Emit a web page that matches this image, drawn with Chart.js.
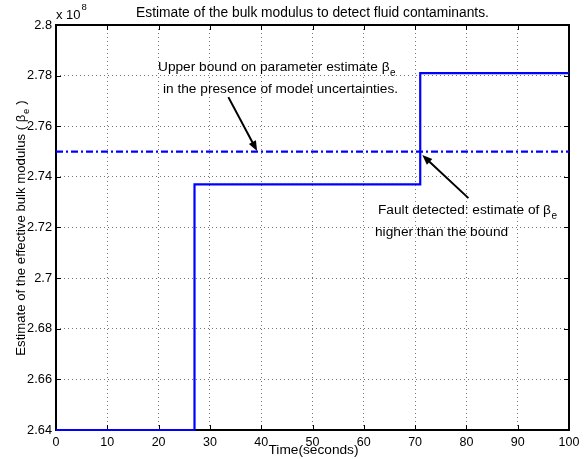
<!DOCTYPE html>
<html>
<head>
<meta charset="utf-8">
<script src="https://cdn.jsdelivr.net/npm/chart.js@4/dist/chart.umd.min.js"></script>
<style>
  html, body { margin: 0; padding: 0; background: #fff; }
  #wrap { width: 587px; height: 459px; position: relative; }
</style>
</head>
<body>
<div id="wrap"><canvas id="c" width="587" height="459"></canvas></div>
<script>
// ---- data (values in units of 1e8) ----
const timeBreaks = [0, 27, 71, 100];
const estimateLevels = [2.64, 2.737, 2.781, 2.781];
const boundTimes = [0, 100];
const boundLevels = [2.75, 2.75];
const xTickValues = [0, 10, 20, 30, 40, 50, 60, 70, 80, 90, 100];
const yTickValues = [2.64, 2.66, 2.68, 2.7, 2.72, 2.74, 2.76, 2.78, 2.8];

const titleText = 'Estimate of the bulk modulus to detect fluid contaminants.';
const xLabelText = 'Time(seconds)';
const yLabelMain = 'Estimate of the effective bulk modulus ( \u03B2';
const yLabelSub = 'e';
const yLabelEnd = ' )';
const note1a = 'Upper bound on parameter estimate \u03B2';
const note1b = 'in the presence of model uncertainties.';
const note2a = 'Fault detected: estimate of \u03B2';
const note2b = 'higher than the bound';

const FONT = '"Liberation Sans", Arial, Helvetica, sans-serif';
const TXT = 13.7;

function drawArrow(ctx, x1, y1, x2, y2) {
  const ang = Math.atan2(y2 - y1, x2 - x1);
  const hl = 10, hw = 4;
  ctx.save();
  ctx.strokeStyle = '#000';
  ctx.fillStyle = '#000';
  ctx.lineWidth = 2;
  ctx.beginPath();
  ctx.moveTo(x1, y1);
  ctx.lineTo(x2 - Math.cos(ang) * hl * 0.8, y2 - Math.sin(ang) * hl * 0.8);
  ctx.stroke();
  ctx.beginPath();
  ctx.moveTo(x2, y2);
  ctx.lineTo(x2 - Math.cos(ang) * hl - Math.sin(ang) * hw, y2 - Math.sin(ang) * hl + Math.cos(ang) * hw);
  ctx.lineTo(x2 - Math.cos(ang) * hl + Math.sin(ang) * hw, y2 - Math.sin(ang) * hl - Math.cos(ang) * hw);
  ctx.closePath();
  ctx.fill();
  ctx.restore();
}

function textWithSub(ctx, main, sub, x, y, size) {
  ctx.font = size + 'px ' + FONT;
  ctx.fillText(main, x, y);
  const w = ctx.measureText(main).width;
  ctx.font = Math.round(size * 0.72) + 'px ' + FONT;
  ctx.fillText(sub, x + w + 0.5, y + 5);
  return w + ctx.measureText(sub).width + 0.5;
}

const framePlugin = {
  id: 'frame',
  beforeDatasetsDraw(chart) {
    const { ctx, chartArea: a, scales } = chart;
    ctx.save();
    ctx.strokeStyle = '#000';
    ctx.lineWidth = 1;
    const tl = 5;
    xTickValues.forEach(v => {
      const x = Math.round(scales.x.getPixelForValue(v)) + 0.5;
      ctx.beginPath();
      ctx.moveTo(x, a.bottom); ctx.lineTo(x, a.bottom - tl);
      ctx.moveTo(x, a.top); ctx.lineTo(x, a.top + tl);
      ctx.stroke();
    });
    yTickValues.forEach(v => {
      const y = Math.round(scales.y.getPixelForValue(v)) + 0.5;
      ctx.beginPath();
      ctx.moveTo(a.left, y); ctx.lineTo(a.left + tl, y);
      ctx.moveTo(a.right, y); ctx.lineTo(a.right - tl, y);
      ctx.stroke();
    });
    ctx.lineWidth = 2;
    ctx.strokeRect(a.left, a.top, a.right - a.left, a.bottom - a.top);
    ctx.restore();
  },
  afterDraw(chart) {
    const { ctx, chartArea: a, scales } = chart;
    const sx = v => scales.x.getPixelForValue(v);
    const sy = v => scales.y.getPixelForValue(v);
    ctx.save();
    ctx.fillStyle = '#000';
    ctx.textBaseline = 'alphabetic';
    // title
    ctx.font = '13.8px ' + FONT;
    ctx.textAlign = 'center';
    ctx.fillText(titleText, (a.left + a.right) / 2, 17);
    // exponent
    ctx.textAlign = 'left';
    ctx.font = '13px ' + FONT;
    ctx.fillText('x 10', a.left, 19);
    const w10 = ctx.measureText('x 10').width;
    ctx.font = '9.5px ' + FONT;
    ctx.fillText('8', a.left + w10 + 1, 10);
    // x label
    ctx.font = TXT + 'px ' + FONT;
    ctx.textAlign = 'center';
    ctx.fillText(xLabelText, 313.5, 453.5);
    // y label (rotated)
    ctx.save();
    ctx.translate(25, 228);
    ctx.rotate(-Math.PI / 2);
    ctx.textAlign = 'left';
    const YS = 13.2;
    ctx.font = YS + 'px ' + FONT;
    const wm = ctx.measureText(yLabelMain).width;
    ctx.font = '9.5px ' + FONT;
    const ws = ctx.measureText(yLabelSub).width;
    ctx.font = YS + 'px ' + FONT;
    const we = ctx.measureText(yLabelEnd).width;
    const total = wm + ws + we + 1;
    const x0 = -total / 2;
    ctx.fillText(yLabelMain, x0, 0);
    ctx.font = '9.5px ' + FONT;
    ctx.fillText(yLabelSub, x0 + wm + 0.5, 4);
    ctx.font = YS + 'px ' + FONT;
    ctx.fillText(yLabelEnd, x0 + wm + ws + 1, 0);
    ctx.restore();
    // annotations
    ctx.textAlign = 'left';
    textWithSub(ctx, note1a, 'e', 158, 71, TXT);
    ctx.font = TXT + 'px ' + FONT;
    ctx.fillText(note1b, 163, 93);
    textWithSub(ctx, note2a, 'e', 378, 214, TXT);
    ctx.font = TXT + 'px ' + FONT;
    ctx.fillText(note2b, 375, 236);
    // arrows (anchored to data coordinates)
    drawArrow(ctx, sx(33.6), sy(2.7715), sx(39.2), sy(2.7502));
    drawArrow(ctx, sx(80.4), sy(2.7316), sx(71.4), sy(2.7486));
    ctx.restore();
  }
};

const ctx = document.getElementById('c').getContext('2d');
new Chart(ctx, {
  type: 'line',
  data: {
    datasets: [
      {
        data: timeBreaks.map((t, i) => ({ x: t, y: estimateLevels[i] })),
        borderColor: '#0000ff',
        borderWidth: 2.2,
        stepped: 'before',
        pointRadius: 0,
        fill: false,
        clip: false
      },
      {
        data: boundTimes.map((t, i) => ({ x: t, y: boundLevels[i] })),
        borderColor: '#0000ff',
        borderWidth: 2.2,
        borderDash: [7, 3, 2, 3],
        pointRadius: 0,
        fill: false,
        clip: false
      }
    ]
  },
  options: {
    responsive: false,
    animation: false,
    events: [],
    layout: { padding: { left: 0, top: 25, right: 18, bottom: 0 } },
    plugins: { legend: { display: false }, tooltip: { enabled: false }, title: { display: false } },
    scales: {
      x: {
        type: 'linear',
        min: 0, max: 100,
        afterFit(s) { s.height = 29; },
        afterBuildTicks(s) { s.ticks = xTickValues.map(v => ({ value: v })); },
        ticks: {
          color: '#000',
          font: { family: FONT, size: 12.5 },
          padding: 5,
          maxRotation: 0,
          callback: v => String(v)
        },
        grid: { color: '#777', lineWidth: 1, drawTicks: false },
        border: { display: false, dash: [1, 3] }
      },
      y: {
        type: 'linear',
        min: 2.64, max: 2.8,
        afterFit(s) { s.width = 56; },
        afterBuildTicks(s) { s.ticks = yTickValues.map(v => ({ value: v })); },
        ticks: {
          color: '#000',
          font: { family: FONT, size: 12.8 },
          padding: 4,
          callback: v => String(parseFloat(Number(v).toFixed(2)))
        },
        grid: { color: '#777', lineWidth: 1, drawTicks: false },
        border: { display: false, dash: [1, 3] }
      }
    }
  },
  plugins: [framePlugin]
});
</script>
</body>
</html>
